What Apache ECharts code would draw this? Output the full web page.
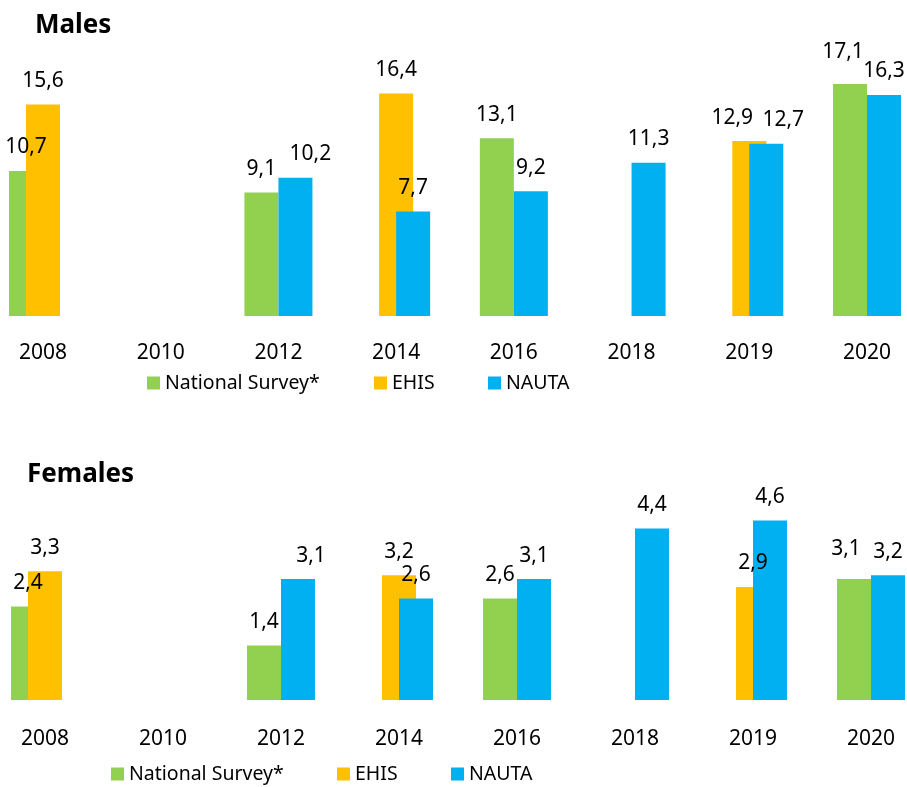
<!DOCTYPE html>
<html>
<head>
<meta charset="utf-8">
<script src="https://cdn.jsdelivr.net/npm/echarts@6/dist/echarts.min.js"></script>
<style>html,body{margin:0;padding:0;background:#fff}#c{width:907px;height:787px}</style>
</head>
<body>
<div id="c"></div>
<script>
var years = ['2008','2010','2012','2014','2016','2018','2019','2020'];
var seriesNames = ['National Survey*','EHIS','NAUTA'];
var malesNational = [10.7, null, 9.1, null, 13.1, null, null, 17.1];
var malesEHIS     = [15.6, null, null, 16.4, null, null, 12.9, null];
var malesNAUTA    = [null, null, 10.2, 7.7, 9.2, 11.3, 12.7, 16.3];
var femalesNational = [2.4, null, 1.4, null, 2.6, null, null, 3.1];
var femalesEHIS     = [3.3, null, null, 3.2, null, null, 2.9, null];
var femalesNAUTA    = [null, null, 3.1, 2.6, 3.1, 4.4, 4.6, 3.2];

var colors = ['#92D050', '#FFC000', '#00B0F0'];
var FONT = 'Noto Sans';

// label nudges (styling only): key = panel|series|categoryIndex
var labelNudge = {
  '0|0|7': [-7, -9],
  '0|1|6': [-17, 0],
  '0|2|6': [17, 0],
  '0|2|2': [15, 0],
  '1|2|2': [13, 0],
  '1|0|7': [-8, -7]
};

function mkSeries(name, data, color, panel, sIdx) {
  var items = data.map(function (v, i) {
    if (v === null) return null;
    var n = labelNudge[panel + '|' + sIdx + '|' + i];
    return n ? { value: v, label: { offset: n } } : v;
  });
  return {
    type: 'bar', name: name, data: items,
    xAxisIndex: panel, yAxisIndex: panel,
    barWidth: 34, barGap: '-50%',
    itemStyle: { color: color },
    label: {
      show: true, position: 'top', distance: 13,
      fontFamily: FONT, fontSize: 21, color: '#000',
      formatter: function (p) { return String(p.value).replace('.', ','); }
    },
    emphasis: { disabled: true },
    animation: false
  };
}

function mkLegend(name, left, top) {
  return {
    data: [name], left: left, top: top, padding: 0,
    icon: 'rect', itemWidth: 13, itemHeight: 13,
    textStyle: { fontFamily: FONT, fontSize: 19.5, color: '#000' }
  };
}

var chart = echarts.init(document.getElementById('c'), null, { renderer: 'canvas' });
chart.setOption({
  animation: false,
  color: colors,
  title: [
    { text: 'Males', left: 35, top: 13, padding: 0,
      textStyle: { fontFamily: FONT, fontSize: 26, fontWeight: 'bold', color: '#000' } },
    { text: 'Females', left: 27, top: 462, padding: 0,
      textStyle: { fontFamily: FONT, fontSize: 26, fontWeight: 'bold', color: '#000' } }
  ],
  legend: [
    mkLegend(seriesNames[0], 147, 373), mkLegend(seriesNames[1], 374, 373), mkLegend(seriesNames[2], 488, 373),
    mkLegend(seriesNames[0], 111, 764), mkLegend(seriesNames[1], 337, 764), mkLegend(seriesNames[2], 451, 764)
  ],
  grid: [
    { left: 43, right: 40, top: 44.8, height: 271.2 },
    { left: 45, right: 36, top: 505, height: 195 }
  ],
  xAxis: [0, 1].map(function (i) {
    return {
      type: 'category', gridIndex: i, data: years, boundaryGap: false,
      axisLine: { show: false }, axisTick: { show: false }, splitLine: { show: false },
      axisLabel: { fontFamily: FONT, fontSize: 21, color: '#000', margin: i === 0 ? 27 : 29, interval: 0 }
    };
  }),
  yAxis: [
    { type: 'value', gridIndex: 0, min: 0, max: 20, show: false, splitLine: { show: false } },
    { type: 'value', gridIndex: 1, min: 0, max: 5, show: false, splitLine: { show: false } }
  ],
  series: [
    mkSeries(seriesNames[0], malesNational, colors[0], 0, 0),
    mkSeries(seriesNames[1], malesEHIS, colors[1], 0, 1),
    mkSeries(seriesNames[2], malesNAUTA, colors[2], 0, 2),
    mkSeries(seriesNames[0], femalesNational, colors[0], 1, 0),
    mkSeries(seriesNames[1], femalesEHIS, colors[1], 1, 1),
    mkSeries(seriesNames[2], femalesNAUTA, colors[2], 1, 2)
  ]
});
</script>
</body>
</html>
